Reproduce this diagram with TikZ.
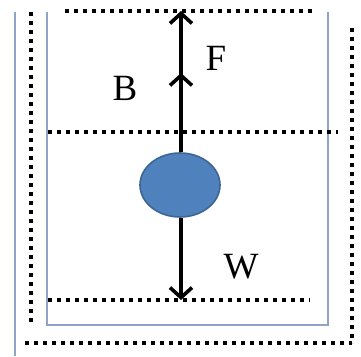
\documentclass[tikz,border=0pt]{standalone}
\usepackage{fontspec}
\setmainfont{Liberation Serif}
\usetikzlibrary{arrows.meta,shapes.geometric}
\definecolor{frame}{HTML}{8FA3C4}
\definecolor{ballfill}{HTML}{4F81BD}
\definecolor{balledge}{HTML}{3B6592}
\tikzset{
  frameline/.style={draw=frame, line width=1.6pt},
  dotline/.style={draw=black, line width=4pt, dash pattern=on 4pt off 5pt},
  force/.style={draw=black, line width=3.6pt, -{Straight Barb[length=10pt,width=22pt,line width=3.6pt]}},
  lbl/.style={font=\fontsize{37}{37}\selectfont, inner sep=0pt},
  ballstyle/.style={ellipse, fill=ballfill, draw=balledge, line width=1.6pt, minimum width=80pt, minimum height=64pt, inner sep=0pt}
}
\begin{document}
\begin{tikzpicture}[x=1pt,y=1pt]
\useasboundingbox (0,0) rectangle (361,356);
% frame lines
\draw[frameline] (15,344) -- (15,0);
\draw[frameline] (47,344) -- (47,31) -- (328,31) -- (328,344);
% dotted lines
\draw[dotline] (31,344) -- (31,32);
\draw[dotline] (352,328) -- (352,13);
\draw[dotline] (25,13) -- (352,13);
\draw[dotline] (65,345) -- (313,345);
\draw[dotline] (48,224) -- (338,224);
\draw[dotline] (48,56) -- (310,56);
% ball and forces
\node[ballstyle] (ball) at (180,171) {};
\coordinate (ftip) at (181,345);
\coordinate (btip) at (181,283);
\coordinate (wtip) at (181,56);
\draw[force] (ball.north -| ftip) -- (ftip);
\draw[force] (ball.north -| btip) -- (btip);
\draw[force] (ball.south -| wtip) -- (wtip);
% labels
\node[lbl] (F) at (216,298) {F};
\node[lbl] (B) at (125,268) {B};
\node[lbl] (W) at (241,89) {W};
\end{tikzpicture}
\end{document}
